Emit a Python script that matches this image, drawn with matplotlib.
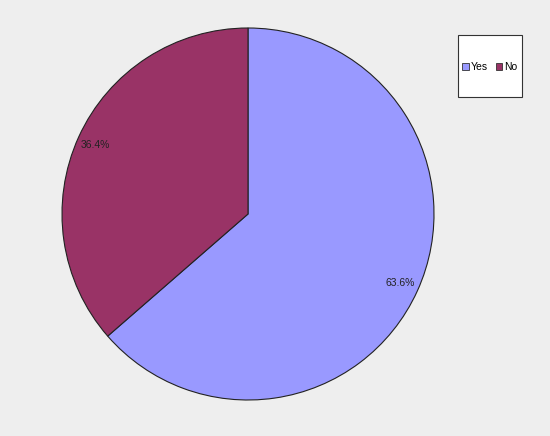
import matplotlib.pyplot as plt
from matplotlib.patches import Rectangle

plt.rcParams['font.family'] = ['Liberation Sans', 'DejaVu Sans']

labels = ["Yes", "No"]
values = [63.6, 36.4]
colors = ["#9999FF", "#993366"]

W, H = 550, 436
fig = plt.figure(figsize=(W / 100, H / 100), dpi=100)
fig.patch.set_facecolor("#EEEEEE")

# pie centre ~ (248, 214) px, radius ~186 px
cx, cy, r = 248, 214, 186
ax = fig.add_axes([(cx - r) / W, (H - cy - r) / H, 2 * r / W, 2 * r / H])

wedges, texts, autotexts = ax.pie(
    values, colors=colors, startangle=90, counterclock=False,
    autopct="%.1f%%", pctdistance=0.9, radius=1,
    wedgeprops=dict(edgecolor="#222222", linewidth=0.8),
    textprops=dict(fontsize=7.5, color="#222222"))
# pie() resets the limits, so set them afterwards
ax.set_xlim(-1, 1)
ax.set_ylim(-1, 1)
ax.axis("off")

# legend box
x0, y0, x1, y1 = 458, 35, 522, 97
fig.patches.append(Rectangle((x0 / W, 1 - y1 / H), (x1 - x0) / W, (y1 - y0) / H,
                             transform=fig.transFigure, facecolor="white",
                             edgecolor="#333333", linewidth=0.8))
handles = [Rectangle((0, 0), 1, 1, facecolor=c, edgecolor="#333333", linewidth=0.6)
           for c in colors]
fig.legend(handles, labels, loc="center", bbox_to_anchor=((x0 + x1) / 2 / W, 1 - 67 / H),
           ncol=2, frameon=False, fontsize=7.5, handlelength=0.6, handleheight=0.6,
           handletextpad=0.2, columnspacing=0.8, borderpad=0)

fig.savefig("out.png", dpi=100, facecolor=fig.get_facecolor())
